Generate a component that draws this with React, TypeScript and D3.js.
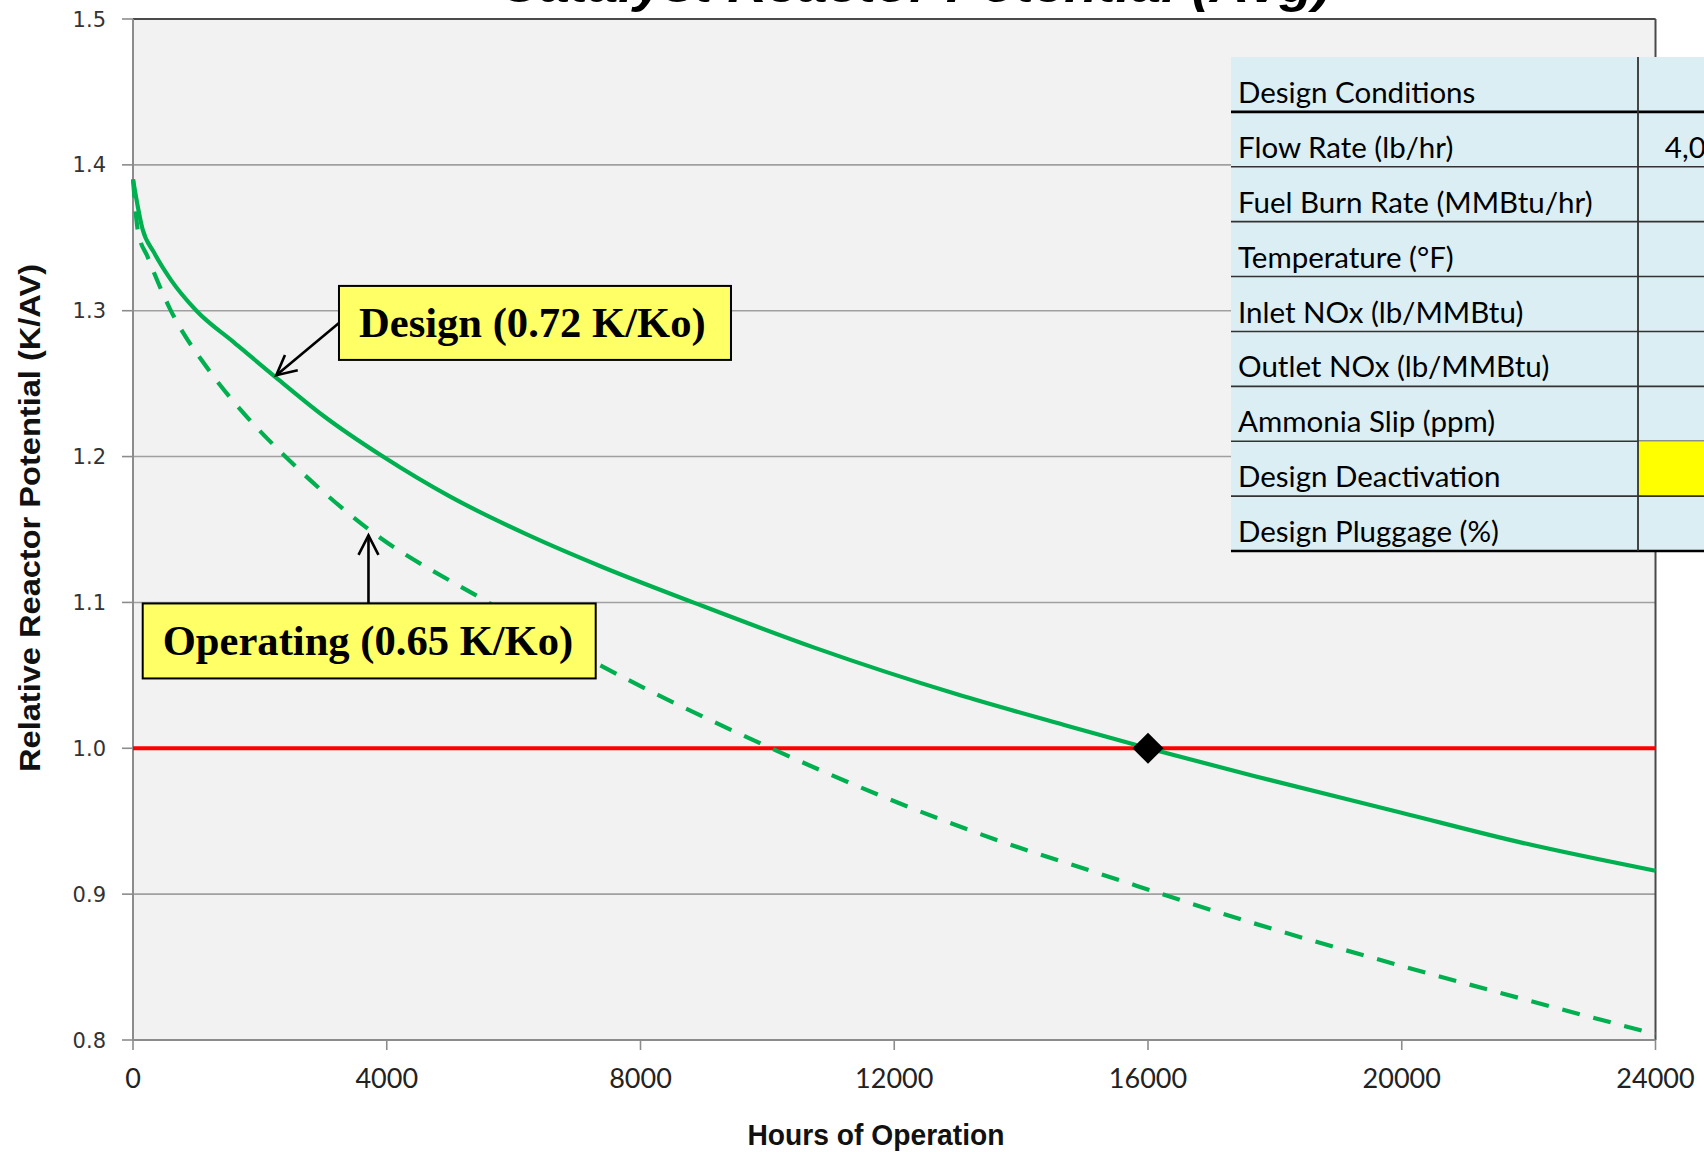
import React from "react";
import * as d3 from "d3";

// relative reactor potential vs hours
const designHours = [0, 150, 330, 600, 1000, 1600, 2260, 3000, 3940, 5000, 6190, 7360, 8850, 10740, 12990, 14680, 16000, 17670, 19980, 21920, 24000];
const designValues = [1.39, 1.356, 1.34, 1.321, 1.3, 1.278, 1.254, 1.228, 1.2, 1.1725, 1.147, 1.125, 1.0997, 1.069, 1.037, 1.016, 1.0, 0.981, 0.956, 0.935, 0.916];

const operatingHours = [0, 80, 230, 575, 1200, 1760, 2450, 3690, 5560, 7360, 10010, 11870, 13560, 15240, 17670, 19980, 21920, 24000];
const operatingValues = [1.39, 1.354, 1.337, 1.302, 1.259, 1.229, 1.198, 1.151, 1.101, 1.057, 1.001, 0.966, 0.938, 0.914, 0.88, 0.851, 0.828, 0.804];

const xTicks = [0, 4000, 8000, 12000, 16000, 20000, 24000];
const yTicks = [0.8, 0.9, 1.0, 1.1, 1.2, 1.3, 1.4, 1.5];

const requiredPotential = 1.0;
const designLifeHours = 16000;

const tableRows = [
  "Design Conditions",
  "Flow Rate (lb/hr)",
  "Fuel Burn Rate (MMBtu/hr)",
  "Temperature (°F)",
  "Inlet NOx (lb/MMBtu)",
  "Outlet NOx (lb/MMBtu)",
  "Ammonia Slip (ppm)",
  "Design Deactivation",
  "Design Pluggage (%)",
];
const tableValues = ["", "4,000,000", "", "", "", "", "", "", ""];
const highlightedRow = "Design Deactivation";

const annotations = [
  { label: "Design (0.72 K/Ko)", boxHours: 3247, boxValue: 1.317, tipHours: 2259, tipValue: 1.2558, side: "left" },
  { label: "Operating (0.65 K/Ko)", boxHours: 153, boxValue: 1.0993, tipHours: 3712, tipValue: 1.146, side: "top" },
];

const title = "Catalyst Reactor Potential (Avg)";
const xTitle = "Hours of Operation";
const yTitle = "Relative Reactor Potential (K/AV)";

const W = 1704;
const H = 1152;
const margin = { top: 19, right: 48.5, bottom: 112, left: 133 };
const GREEN = "#00B050";
const boxSizes = [
  { w: 392, h: 74 },
  { w: 453, h: 75 },
];

function arrowHead(x1: number, y1: number, x2: number, y2: number, len = 22, spread = 0.47) {
  const a = Math.atan2(y2 - y1, x2 - x1);
  const p1 = [x2 - len * Math.cos(a - spread), y2 - len * Math.sin(a - spread)];
  const p2 = [x2 - len * Math.cos(a + spread), y2 - len * Math.sin(a + spread)];
  return `M${p1[0]},${p1[1]}L${x2},${y2}L${p2[0]},${p2[1]}`;
}

export default function App() {
  const innerW = W - margin.left - margin.right;
  const innerH = H - margin.top - margin.bottom;

  const x = d3.scaleLinear().domain([0, 24000]).range([margin.left, margin.left + innerW]);
  const y = d3.scaleLinear().domain([0.8, 1.5]).range([margin.top + innerH, margin.top]);

  const line = d3
    .line<[number, number]>()
    .x(d => x(d[0]))
    .y(d => y(d[1]))
    .curve(d3.curveMonotoneX);

  const designPath = line(designHours.map((h, i) => [h, designValues[i]])) ?? "";
  const operatingPath = line(operatingHours.map((h, i) => [h, operatingValues[i]])) ?? "";

  const diamond = d3.symbol(d3.symbolSquare, 484)() ?? "";

  const rowScale = d3.scaleBand<string>().domain(tableRows).range([57, 551]);
  const tableLeft = 1231;
  const divider = 1638;
  const tableRight = 1826;

  return (
    <svg
      width={W}
      height={H}
      style={{ position: "absolute", left: 0, top: 0, background: "#fff", overflow: "hidden" }}
    >
      <defs>
        <clipPath id="page">
          <rect x={0} y={0} width={W} height={H} />
        </clipPath>
      </defs>

      {/* title, cut off at the top of the picture */}
      <text
        x={500}
        y={1.5}
        textLength={831}
        lengthAdjust="spacingAndGlyphs"
        fontFamily="'Liberation Sans', Arial, sans-serif"
        fontWeight="bold"
        fontStyle="italic"
        fontSize={50}
        fill="#000"
      >
        {title}
      </text>

      <rect x={margin.left} y={margin.top} width={innerW} height={innerH} fill="#F2F2F2" />

      {yTicks.map(t => (
        <line key={t} x1={margin.left} x2={margin.left + innerW} y1={y(t)} y2={y(t)} stroke="#A0A0A0" strokeWidth={1.6} />
      ))}

      {/* frame */}
      <line x1={margin.left} x2={margin.left + innerW} y1={margin.top} y2={margin.top} stroke="#4a4a4a" strokeWidth={2} />
      <line x1={margin.left + innerW} x2={margin.left + innerW} y1={margin.top} y2={margin.top + innerH} stroke="#4a4a4a" strokeWidth={2} />
      <line x1={margin.left} x2={margin.left} y1={margin.top} y2={margin.top + innerH} stroke="#8c8c8c" strokeWidth={2} />
      <line x1={margin.left} x2={margin.left + innerW} y1={margin.top + innerH} y2={margin.top + innerH} stroke="#8c8c8c" strokeWidth={2} />

      {/* y axis */}
      {yTicks.map(t => (
        <g key={t}>
          <line x1={margin.left - 11} x2={margin.left} y1={y(t)} y2={y(t)} stroke="#8c8c8c" strokeWidth={1.6} />
          <text
            x={106}
            y={y(t)}
            dy="0.36em"
            textAnchor="end"
            fontFamily="'DejaVu Sans', Verdana, sans-serif"
            fontSize={21}
            fill="#333"
          >
            {t.toFixed(1)}
          </text>
        </g>
      ))}

      {/* x axis */}
      {xTicks.map(t => (
        <g key={t}>
          <line x1={x(t)} x2={x(t)} y1={margin.top + innerH} y2={margin.top + innerH + 10} stroke="#8c8c8c" strokeWidth={1.6} />
          <text x={x(t)} y={1088} textAnchor="middle" fontFamily="Lato, 'Open Sans', sans-serif" fontSize={27} fill="#222">
            {t}
          </text>
        </g>
      ))}

      <text
        x={876}
        y={1145}
        textAnchor="middle"
        textLength={257}
        lengthAdjust="spacingAndGlyphs"
        fontFamily="'Liberation Sans Narrow', 'Liberation Sans', Arial, sans-serif"
        fontWeight="bold"
        fontSize={29}
        fill="#111"
      >
        {xTitle}
      </text>
      <text
        transform={`translate(40,518) rotate(-90)`}
        textAnchor="middle"
        textLength={508}
        lengthAdjust="spacingAndGlyphs"
        fontFamily="'Liberation Sans Narrow', 'Liberation Sans', Arial, sans-serif"
        fontWeight="bold"
        fontSize={29}
        fill="#111"
      >
        {yTitle}
      </text>

      {/* required potential */}
      <line x1={x(0)} x2={x(24000)} y1={y(requiredPotential)} y2={y(requiredPotential)} stroke="#FF0000" strokeWidth={4} />

      <path d={operatingPath} fill="none" stroke={GREEN} strokeWidth={4.2} strokeDasharray="18,14" />
      <path d={designPath} fill="none" stroke={GREEN} strokeWidth={4.2} />

      <path
        d={diamond}
        transform={`translate(${x(designLifeHours)},${y(requiredPotential)}) rotate(45)`}
        fill="#000"
      />

      {/* call-outs */}
      {annotations.map((a, i) => {
        const bx = x(a.boxHours);
        const by = y(a.boxValue);
        const { w, h } = boxSizes[i];
        const tx = x(a.tipHours);
        const ty = y(a.tipValue);
        const sx = a.side === "left" ? bx : tx;
        const sy = a.side === "left" ? by + h / 2 : by;
        return (
          <g key={a.label}>
            <line x1={sx} y1={sy} x2={tx} y2={ty} stroke="#000" strokeWidth={2.6} />
            <path d={arrowHead(sx, sy, tx, ty)} fill="none" stroke="#000" strokeWidth={2.6} />
            <rect x={bx} y={by} width={w} height={h} fill="#FFFF66" stroke="#000" strokeWidth={2} />
            <text
              x={bx + 20}
              y={by + h / 2 + 14}
              fontFamily="'Liberation Serif', 'Times New Roman', serif"
              fontWeight="bold"
              fontSize={42.6}
              fill="#000"
            >
              {a.label}
            </text>
          </g>
        );
      })}

      {/* design conditions table */}
      <g clipPath="url(#page)">
        <rect x={tableLeft} y={57} width={tableRight - tableLeft} height={551 - 57} fill="#DBEEF3" />
        {tableRows.map((r, i) => {
          const top = rowScale(r) ?? 0;
          const bh = rowScale.bandwidth();
          return (
            <g key={r}>
              {r === highlightedRow && (
                <rect x={divider} y={top} width={tableRight - divider} height={bh} fill="#FFFF00" />
              )}
              <text x={tableLeft + 7} y={top + 46} fontFamily="Lato, 'Open Sans', sans-serif" fontSize={29.5} fill="#000">
                {r}
              </text>
              {tableValues[i] && (
                <text x={tableRight - 28} y={top + 46} textAnchor="end" fontFamily="Lato, 'Open Sans', sans-serif" fontSize={29.5} fill="#000">
                  {tableValues[i]}
                </text>
              )}
              <line
                x1={tableLeft}
                x2={tableRight}
                y1={top + bh}
                y2={top + bh}
                stroke={i === 0 || i === tableRows.length - 1 ? "#000" : "#333"}
                strokeWidth={i === 0 || i === tableRows.length - 1 ? 2.6 : 1.6}
              />
            </g>
          );
        })}
        <line x1={divider} x2={divider} y1={57} y2={551} stroke="#333" strokeWidth={1.8} />
      </g>
    </svg>
  );
}
